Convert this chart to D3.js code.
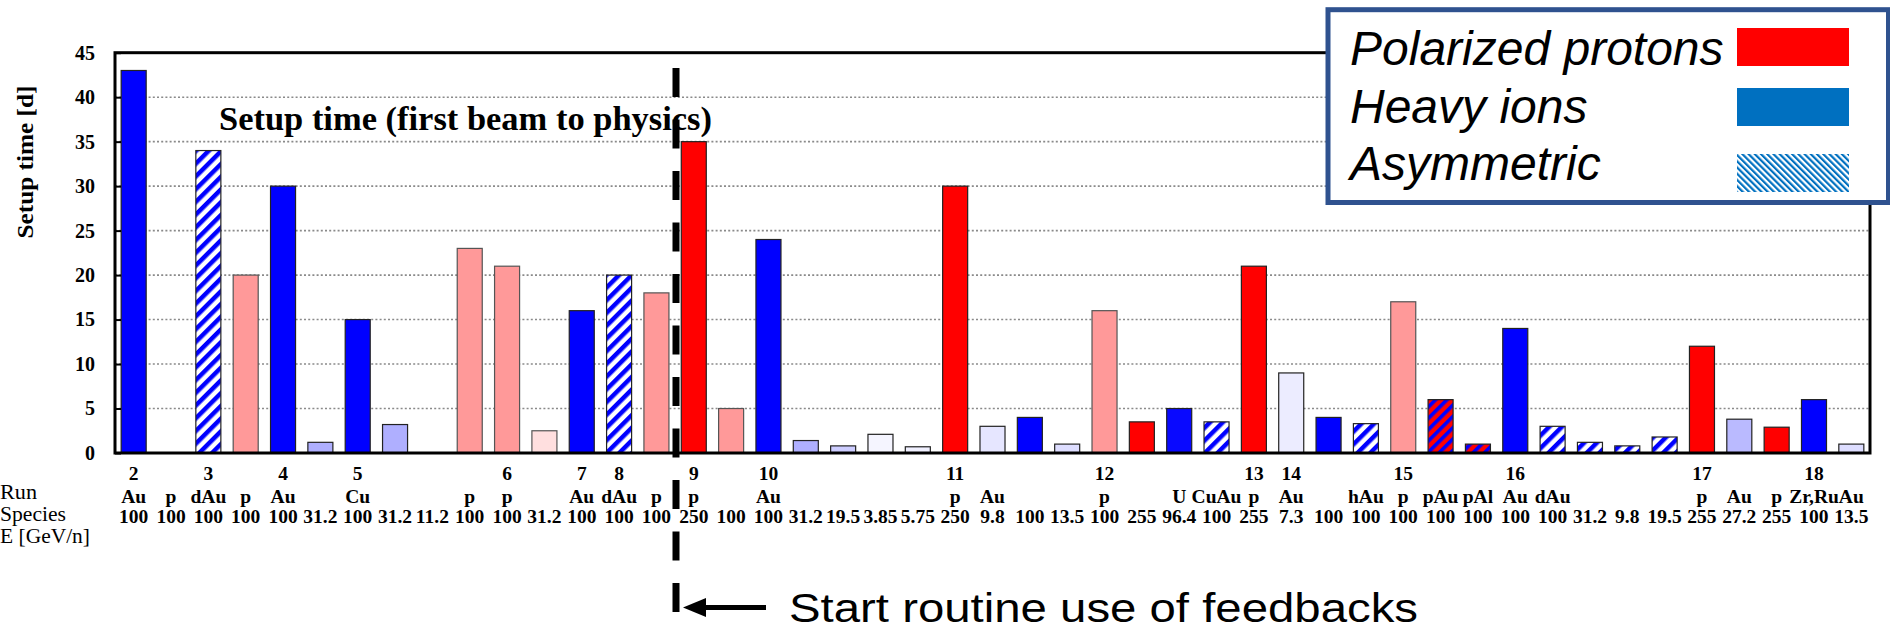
<!DOCTYPE html>
<html>
<head>
<meta charset="utf-8">
<script src="https://cdn.jsdelivr.net/npm/d3@7/dist/d3.min.js"></script>
<style>
  html, body { margin: 0; padding: 0; background: #fff; }
  svg { display: block; }
</style>
</head>
<body>
<svg id="chart" width="1890" height="632"></svg>
<script>
// RHIC runs: setup time from first beam to physics, one slot per run period
const runNumbers = ["2","","3","","4","","5","","","","6","","7","8","","9","","10","","","","","11","","","","12","","","","13","14","","","15","","","16","","","","","17","","","18",""];
const species = ["Au","p","dAu","p","Au","","Cu","","","p","p","","Au","dAu","p","p","","Au","","","","","p","Au","","","p","","U","CuAu","p","Au","","hAu","p","pAu","pAl","Au","dAu","","","","p","Au","p","Zr,Ru","Au"];
const energies = [100,100,100,100,100,31.2,100,31.2,11.2,100,100,31.2,100,100,100,250,100,100,31.2,19.5,3.85,5.75,250,9.8,100,13.5,100,255,96.4,100,255,7.3,100,100,100,100,100,100,100,31.2,9.8,19.5,255,27.2,255,100,13.5];
const setupDays = [43,0,34,20,30,1.2,15,3.2,0,23,21,2.5,16,20,18,35,5,24,1.4,0.8,2.1,0.7,30,3,4,1,16,3.5,5,3.5,21,9,4,3.3,17,6,1,14,3,1.2,0.8,1.8,12,3.8,2.9,6,1];
// PP = polarized protons, HI = heavy ions, ASYM = asymmetric ions, PA = proton-nucleus
const beamTypes = ["HI","PP","ASYM","PP","HI","HI","HI","HI","HI","PP","PP","PP","HI","ASYM","PP","PP","PP","HI","HI","HI","HI","HI","PP","HI","HI","HI","PP","PP","HI","ASYM","PP","HI","HI","ASYM","PP","PA","PA","HI","ASYM","ASYM","ASYM","ASYM","PP","HI","PP","HI","HI"];
const yTicks = [0,5,10,15,20,25,30,35,40,45];
const rowTitles = ["Run","Species","E [GeV/n]"];
const legendLabels = ["Polarized protons","Heavy ions","Asymmetric"];

const svg = d3.select("#chart");
const plot = {left: 115, right: 1870, top: 52.7, bottom: 453};

const x = d3.scaleBand()
  .domain(d3.range(setupDays.length))
  .range([plot.left, plot.right])
  .paddingInner(0.33)
  .paddingOuter(0.165);
const y = d3.scaleLinear().domain([0, 45]).range([plot.bottom, plot.top]);

// fill shade follows beam energy relative to top energy of the machine
const ppShade = d3.scaleLinear().domain([0, 250]).range([0, 1]).clamp(true);
const hiShade = d3.scaleLinear().domain([0, 100]).range([0, 1]).clamp(true);
function barFill(i) {
  const t = beamTypes[i];
  if (t === "PP") return d3.interpolateRgb("#ffffff", "#ff0000")(ppShade(energies[i]));
  if (t === "HI") return d3.interpolateRgb("#ffffff", "#0000ff")(hiShade(energies[i]));
  if (t === "ASYM") return "url(#asymHatch)";
  return "url(#paHatch)";
}

// hatch patterns
const defs = svg.append("defs");
const asym = defs.append("pattern").attr("id", "asymHatch")
  .attr("patternUnits", "userSpaceOnUse").attr("width", 9).attr("height", 9)
  .attr("patternTransform", "rotate(45)");
asym.append("rect").attr("width", 9).attr("height", 9).attr("fill", "#fff");
asym.append("rect").attr("width", 4.5).attr("height", 9).attr("fill", "#0000ff");

const pa = defs.append("pattern").attr("id", "paHatch")
  .attr("patternUnits", "userSpaceOnUse").attr("width", 8).attr("height", 8)
  .attr("patternTransform", "rotate(45)");
pa.append("rect").attr("width", 8).attr("height", 8).attr("fill", "#ff0000");
pa.append("rect").attr("width", 3.6).attr("height", 8).attr("fill", "#0000ff");

const lh = defs.append("pattern").attr("id", "legendHatch")
  .attr("patternUnits", "userSpaceOnUse").attr("width", 4.4).attr("height", 4.4)
  .attr("patternTransform", "rotate(-45)");
lh.append("rect").attr("width", 4.4).attr("height", 4.4).attr("fill", "#fff");
lh.append("rect").attr("width", 2.2).attr("height", 4.4).attr("fill", "#0070c0");

// dotted grid
svg.append("g").selectAll("line")
  .data(yTicks.filter(v => v > 0 && v < 45))
  .join("line")
  .attr("x1", plot.left).attr("x2", plot.right)
  .attr("y1", d => y(d)).attr("y2", d => y(d))
  .attr("stroke", "#8a8a8a").attr("stroke-width", 1.6)
  .attr("stroke-dasharray", "2,2.2");

// bars
svg.append("g").selectAll("rect")
  .data(d3.range(setupDays.length).filter(i => setupDays[i] > 0))
  .join("rect")
  .attr("x", i => x(i))
  .attr("width", x.bandwidth())
  .attr("y", i => y(setupDays[i]))
  .attr("height", i => y(0) - y(setupDays[i]))
  .attr("fill", barFill)
  .attr("stroke", i => beamTypes[i] === "PP" && energies[i] < 200 ? "#555" : "#222")
  .attr("stroke-width", 1.2);

// frame
svg.append("rect")
  .attr("x", plot.left).attr("y", plot.top)
  .attr("width", plot.right - plot.left).attr("height", plot.bottom - plot.top)
  .attr("fill", "none").attr("stroke", "#000").attr("stroke-width", 3);

// y axis with inward ticks
const yAxis = svg.append("g")
  .attr("transform", `translate(${plot.left},0)`)
  .call(d3.axisLeft(y).tickValues(yTicks).tickSizeInner(-6).tickSizeOuter(0).tickPadding(20));
yAxis.select(".domain").remove();
yAxis.selectAll(".tick line").attr("stroke", "#000").attr("stroke-width", 2);
yAxis.selectAll(".tick text")
  .attr("font-family", "'Liberation Serif', 'Times New Roman', serif")
  .attr("font-weight", "bold").attr("font-size", 20).attr("fill", "#000");

svg.append("text")
  .attr("transform", "translate(33,162) rotate(-90)")
  .attr("text-anchor", "middle")
  .attr("font-family", "'Liberation Serif', 'Times New Roman', serif")
  .attr("font-weight", "bold").attr("font-size", 23)
  .attr("textLength", 153).attr("lengthAdjust", "spacingAndGlyphs")
  .text("Setup time [d]");

// title inside plot
svg.append("text")
  .attr("x", 219).attr("y", 130)
  .attr("font-family", "'Liberation Serif', 'Times New Roman', serif")
  .attr("font-weight", "bold").attr("font-size", 33)
  .attr("textLength", 493).attr("lengthAdjust", "spacingAndGlyphs")
  .text("Setup time (first beam to physics)");

// category label rows
const serif = "'Liberation Serif', 'Times New Roman', serif";
const rows = [
  {labels: runNumbers, baseline: 480},
  {labels: species, baseline: 503},
  {labels: energies.map(String), baseline: 523}
];
rows.forEach(r => {
  svg.append("g").selectAll("text")
    .data(d3.range(r.labels.length).filter(i => r.labels[i] !== ""))
    .join("text")
    .attr("x", i => x(i) + x.bandwidth() / 2)
    .attr("y", r.baseline)
    .attr("text-anchor", "middle")
    .attr("font-family", serif).attr("font-weight", "bold").attr("font-size", 19.5)
    .text(i => r.labels[i]);
});
svg.append("g").selectAll("text")
  .data(rowTitles)
  .join("text")
  .attr("x", 0)
  .attr("y", (d, i) => 499 + i * 22)
  .attr("font-family", serif).attr("font-size", 20)
  .attr("textLength", (d, i) => [37, 66, 90][i]).attr("lengthAdjust", "spacingAndGlyphs")
  .text(d => d);

// marker for start of routine feedback use
svg.append("line")
  .attr("x1", 676).attr("x2", 676).attr("y1", 68).attr("y2", 616)
  .attr("stroke", "#000").attr("stroke-width", 7)
  .attr("stroke-dasharray", "29,22.5");
svg.append("line")
  .attr("x1", 703).attr("x2", 766).attr("y1", 607.5).attr("y2", 607.5)
  .attr("stroke", "#000").attr("stroke-width", 5);
svg.append("path")
  .attr("d", "M683,607.5 L706,598 L706,617 Z")
  .attr("fill", "#000");
svg.append("text")
  .attr("x", 789).attr("y", 622)
  .attr("font-family", "'Liberation Sans', Arial, sans-serif").attr("font-size", 40)
  .attr("textLength", 629).attr("lengthAdjust", "spacingAndGlyphs")
  .text("Start routine use of feedbacks");

// legend
const legend = svg.append("g");
legend.append("rect")
  .attr("x", 1328).attr("y", 9.7).attr("width", 560.5).attr("height", 192.8)
  .attr("fill", "#fff").attr("stroke", "#2f528f").attr("stroke-width", 5);
const swatches = ["#ff0000", "#0070c0", "url(#legendHatch)"];
legendLabels.forEach((lab, i) => {
  legend.append("text")
    .attr("x", 1350).attr("y", 65 + i * 57.5)
    .attr("font-family", "'Liberation Sans', Arial, sans-serif")
    .attr("font-style", "italic").attr("font-size", 48)
    .text(lab);
  legend.append("rect")
    .attr("x", 1737).attr("y", [28, 88, 154][i])
    .attr("width", 112).attr("height", 38)
    .attr("fill", swatches[i]);
});
</script>
</body>
</html>
